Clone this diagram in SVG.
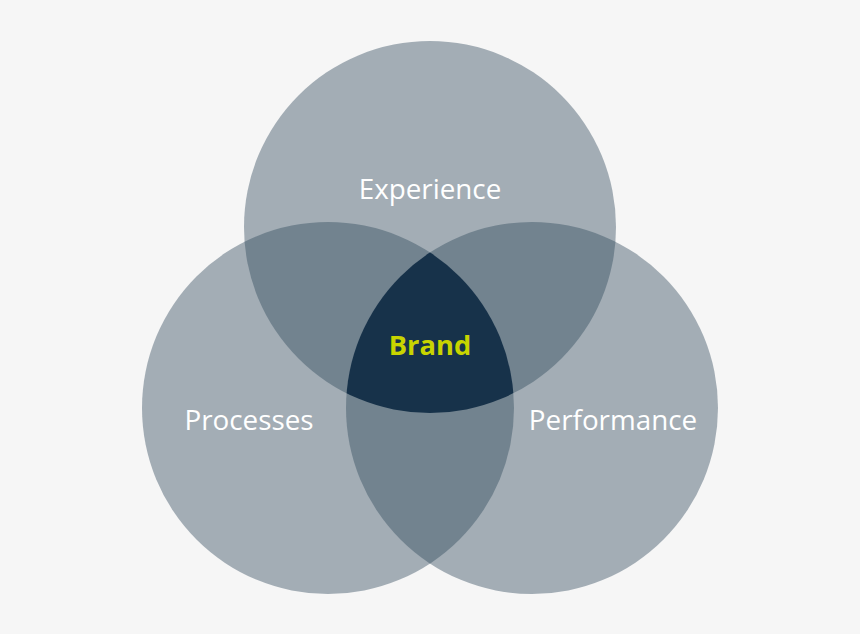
<svg xmlns="http://www.w3.org/2000/svg" width="860" height="634" viewBox="0 0 860 634">
<style>
.c{fill:#a3adb5}
.d{fill:#72838f}
.t{fill:#17324a}
.lbl{font-family:"Open Sans","Noto Sans",sans-serif;font-size:27.8px;fill:#ffffff;text-anchor:middle}
.brand{font-family:"Open Sans","Noto Sans",sans-serif;font-size:27.3px;font-weight:bold;fill:#c8d400;text-anchor:middle}
</style>
<defs>
<clipPath id="cA"><circle cx="430" cy="227" r="186"/></clipPath>
<clipPath id="cB"><circle cx="328" cy="408" r="186"/></clipPath>
<clipPath id="cC"><circle cx="532" cy="408" r="186"/></clipPath>
</defs>
<rect width="860" height="634" fill="#f6f6f6"/>
<g id="experience"><circle class="c" cx="430" cy="227" r="186"/></g>
<g id="processes"><circle class="c" cx="328" cy="408" r="186"/></g>
<g id="performance"><circle class="c" cx="532" cy="408" r="186"/></g>
<g id="overlaps">
<g clip-path="url(#cA)"><circle class="d" cx="328" cy="408" r="186"/><circle class="d" cx="532" cy="408" r="186"/></g>
<g clip-path="url(#cB)"><circle class="d" cx="532" cy="408" r="186"/></g>
</g>
<g id="brand">
<g clip-path="url(#cA)"><g clip-path="url(#cB)"><circle class="t" cx="532" cy="408" r="186"/></g></g>
</g>
<g id="labels">
<text class="lbl" x="430" y="199">Experience</text>
<text class="lbl" x="249" y="430">Processes</text>
<text class="lbl" x="613" y="430">Performance</text>
<text class="brand" x="430" y="355">Brand</text>
</g>
</svg>
